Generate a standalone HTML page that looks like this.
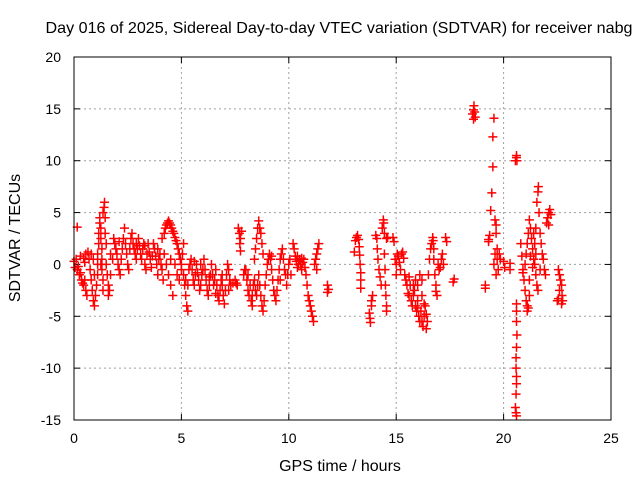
<!DOCTYPE html>
<html><head><meta charset="utf-8"><style>
body{margin:0;background:#fff}
svg{display:block;font-family:"Liberation Sans",sans-serif}
</style></head><body>
<svg id="chart" width="640" height="480" xmlns="http://www.w3.org/2000/svg">
<text x="339" y="33" font-size="16" text-anchor="middle" textLength="587" lengthAdjust="spacingAndGlyphs">Day 016 of 2025, Sidereal Day-to-day VTEC variation (SDTVAR) for receiver nabg</text>
<g id="grid"></g>
<g id="ticks"></g>
<g id="marks"></g>
<rect x="74" y="57" width="537" height="363" fill="none" stroke="#000" stroke-width="1"/>
<text transform="translate(20,238) rotate(-90)" font-size="16" text-anchor="middle">SDTVAR / TECUs</text>
<text x="340" y="471" font-size="16" text-anchor="middle">GPS time / hours</text>
</svg>
<script>
const xTicks=[0,5,10,15,20,25];
const yTicks=[20,15,10,5,0,-5,-10,-15];
const seg1=[[0,0.3],[0.05,-0.3],[0.1,0.5],[0.15,-0.5],[0.2,-0.2],[0.25,-1],[0.3,-0.8],[0.35,-1.5],[0.4,-1.8],[0.45,-2],[0.5,-1.5],[0.55,-2.5],[0.6,-3],[0.15,3.6],[0.3,0.8],[0.45,0.6],[0.55,1],[0.65,1.2],[0.7,0.5],
[0.75,-0.5],[0.8,-1.5],[0.85,-2.5],[0.9,-3.5],[0.95,-4],[1.0,-3],[0.8,1],[0.9,0.5],
[1.05,-2],[1.1,-1],[1.1,0],[1.1,1],[1.15,2],[1.15,3],[1.2,4],[1.2,4.5],[1.25,3.5],[1.25,2.5],[1.3,1.5],[1.3,0.5],[1.3,-0.5],[1.35,-1.5],[1.35,-2.5],[1.35,5],[1.4,5.5],[1.42,6],[1.45,4.5],[1.45,3],[1.5,2],[1.5,0],[1.55,-1],[1.6,-2],[1.6,-3],[1.65,-2.5],[1.7,-1],[1.7,1],
[1.8,0.5],[1.85,2.5],[1.9,2],[1.95,1.5],[2.0,1],[2.05,0],[2.1,-0.5],[2.15,-1],[2.2,0.5],[2.25,1.5],[2.3,2.5],[2.35,3.5],[2.4,2],[2.45,1],[2.5,0],[2.55,-0.5],[2.6,1.5],[2.65,2.5],[2.7,3],[2.75,2],
[2.8,1.5],[2.85,1],[2.9,0.5],[2.95,1.5],[3.0,2.5],[3.05,1.8],[3.1,1],[3.15,0.5],[3.2,1.5],[3.25,2],[3.3,0],[3.35,-0.5],[3.4,1],[3.45,2],[3.5,1.2],[3.55,0.5],[3.6,-0.3],[3.65,0.8],[3.7,2],[3.75,1.5],[3.8,0.8],[3.85,0],[3.9,-1],[3.95,0.5],[4.0,1],[4.05,0],[4.1,-0.5],[4.15,-1.5],
[4.2,3],[4.25,3.5],[4.3,3.8],[4.35,4],[4.4,4.2],[4.45,4],[4.5,3.8],[4.55,3.5],[4.6,3.2],[4.65,3],[4.7,2.6],[4.75,2.3],[4.8,2],[4.85,1.5],[4.9,1],[4.95,0.5],[5.0,0],
[4.2,1],[4.3,0],[4.4,-1],[4.5,-2],[4.6,-3],[4.5,0.5],[4.7,0],[4.8,-1],[4.9,-1.5],[5.0,-0.5],[5.05,1],[5.1,2],
[5.1,-1],[5.15,-2],[5.2,-3],[5.25,-4],[5.3,-4.5],[5.2,-1.5],[5.35,-0.5],[5.4,0],[5.45,0.5],[5.5,-0.5],[5.55,-1.5],[5.6,-2],[5.65,-1],[5.7,0],[5.75,-0.8],[5.8,-1.5],[5.85,-2.5],[5.9,-2],[5.95,-1],
[0.5,0.2],[0.95,-1],[1.25,0],[2.1,2.2],[2.9,2],[3.3,1.8],[3.9,1.5],[4.1,2.5],[5.3,-2],[5.6,0.3],[5.9,0]];
const seg2=[[6.0,-0.5],[6.05,0.5],[6.1,-0.5],[6.15,-1.5],[6.2,-2.5],[6.25,-3],[6.3,-2],[6.35,-1],[6.4,0],[6.45,-1],[6.5,-2],[6.55,-1.5],[6.6,-0.5],[6.65,-2],[6.7,-3],[6.75,-3.5],[6.8,-2.5],[6.85,-1.5],[6.9,-2],[6.95,-3],[7.0,-3.8],[7.05,-2.5],[7.1,-1],[7.15,0],[7.2,-0.5],[7.25,-1.5],[7.3,-2],[7.4,-1.8],[7.5,-1.5],[7.55,-1.8],[7.6,-2],
[7.65,3.5],[7.7,3],[7.75,2.5],[7.8,3.2],[7.72,2],[7.75,1.3],
[7.9,-1],[7.95,-0.5],[8.0,-0.5],[8.05,-1.5],[8.1,-2.5],[8.15,-3],[8.2,-2],[8.25,-3.5],[8.3,-3],[8.35,-2],[8.4,-1.5],[8.45,-2.5],[8.5,-3],[8.55,-2],[8.6,-1],[8.65,-2],[8.7,-3],[8.75,-4],[8.8,-4.5],[8.85,-3.5],
[8.4,0.5],[8.45,1.5],[8.5,2.5],[8.55,3.5],[8.6,4.2],[8.65,3.5],[8.7,3],[8.75,2],[8.8,1],
[8.9,-2],[8.95,-1],[9.0,0],[9.05,0.5],[9.1,1],[9.15,0.5],[9.2,-0.5],[9.25,-1.5],[9.3,-2.5],[9.35,-3],[9.4,-3.5],[9.45,-2.5],[9.5,-1.5],[9.55,-0.5],[9.6,0.5],[9.65,1],[9.7,1.5],[9.75,0.5],[9.8,-0.5],[9.85,-1],[9.9,-2],[9.95,-1],[10.0,0],[10.05,0.5],[10.1,-1],
[10.2,2],[10.25,1.5],[10.3,0.8],[10.35,0.3],[10.4,-0.3],[10.45,0],[10.5,0.5],[10.55,0],[10.6,-0.5],[10.65,0.2],[10.7,0.5],[10.75,-0.3],[10.8,-1],[10.85,-2],[10.9,-3],[10.95,-3.5],[11.0,-4],[11.05,-4.5],[11.1,-5],[11.15,-5.5],[11.2,0],[11.25,0.5],[11.3,1],[11.35,1.5],[11.4,2],[11.3,-0.5],
[11.8,-2],[11.8,-2.7],[11.85,-2.4],
[6.3,-1.2],[6.6,-2.8],[6.9,-1],[7.2,-2.5],[8.1,-1],[8.3,-4],[9.2,0.8],[9.6,-1.5],[10.4,0.8],[10.6,0.6]];
const seg3=[[13.05,1.2],[13.1,2.3],[13.15,2.6],[13.2,2.8],[13.25,2.4],[13.28,1.7],[13.3,0.9],[13.32,0],[13.35,-0.8],[13.35,-1.5],[13.35,-2.3],
[13.75,-4.7],[13.78,-5.2],[13.8,-5.6],[13.85,-4],[13.9,-3],[13.85,-3.5],
[14.05,2.8],[14.1,2.5],[14.12,1.5],[14.15,0.5],[14.2,-0.5],[14.25,-1.2],[14.3,-2],[14.35,3.5],[14.4,4.3],[14.42,4],[14.45,3],[14.45,1],[14.48,-0.5],[14.5,-2],[14.52,-3],[14.55,-4],[14.55,-4.5],[14.55,2.5],[14.6,2.6],
[14.85,2.6],[14.9,2.2],
[14.95,0.5],[15.0,0],[15.05,1],[15.1,0.8],[15.15,0.2],[15.2,-0.5],[15.25,1],[15.3,1.2],[15.35,0.6],[15.0,-1],
[15.4,-1],[15.45,-1.5],[15.5,-2],[15.55,-2.8],[15.6,-3],[15.65,-2],[15.7,-3.5],[15.75,-4],[15.8,-3],[15.85,-2.5],[15.9,-4],[15.95,-4.5],[16.0,-3.5],[16.05,-5],[16.1,-5.5],[16.15,-4.5],[16.2,-5.5],[16.25,-6],[16.3,-5],[16.35,-4],[16.4,-6.2],[15.9,-1.5],[16.0,-2],[16.1,-1],[16.2,-1.5],[16.3,-3.8],[16.45,-5.5],
[16.5,-1],[16.55,0.5],[16.6,1.5],[16.65,2],[16.7,2.6],[16.72,2.3],[16.75,1.5],[16.75,0.5],[16.8,-1],[16.85,-2],[16.9,-3],[16.85,-2.6],
[16.95,0],[17.0,-0.5],[17.05,-0.3],[17.1,0.5],[17.15,1],[17.2,0],
[17.3,2.6],[17.35,2.2],[17.65,-1.7],[17.7,-1.4],
[15.6,-1.2],[15.8,-2],[16.0,-4.2],[16.2,-3],[16.4,-4.8]];
const seg4=[[18.55,14.5],[18.6,14.9],[18.62,15.3],[18.65,14.7],[18.68,14.2],[18.6,14],
[19.15,-2.3],[19.15,-2],[19.3,2.4],[19.35,2.8],[19.3,2.2],[19.4,5.2],[19.45,6.9],[19.5,9.4],[19.5,12.3],[19.55,14.1],
[19.6,4.3],[19.65,3.8],[19.65,3],[19.7,1.5],[19.7,0.5],[19.75,-0.5],[19.6,1],[19.55,0],[19.65,-1],[19.8,1],[19.85,0.5],
[20.0,0.3],[20.05,-0.3],[20.3,0.1],[20.3,-0.5],
[20.55,10],[20.6,10.3],[20.6,10.5],[20.62,10],
[20.6,-3.8],[20.6,-4.5],[20.6,-5.5],[20.62,-6.8],[20.6,-8],[20.58,-9],[20.58,-10],[20.6,-10.8],[20.6,-11.5],[20.58,-12.5],[20.55,-13.8],[20.58,-14.3],[20.6,-14.6],
[20.8,2],[20.85,0.8],[20.9,-0.5],[20.95,-1.5],[21.0,-2.5],[21.05,-3.5],[21.1,-4],[21.1,-4.5],[21.15,-4.2],[21.2,-3],[21.2,-1.5],[20.9,-0.8],[21.0,0],[21.05,1],[21.1,2],[21.15,3],[21.2,4.3],[21.25,3.5],[21.3,2.5],[21.35,1.5],[21.4,0.5],[21.4,3],[21.45,2],[21.5,1],[21.5,-1],[21.55,-2],[21.6,-2.5],[21.55,6],[21.6,7],[21.62,7.5],[21.65,5],[21.7,3],[21.75,2],[21.8,1],[21.85,0.5],[21.9,-0.5],[21.95,-1],[21.7,-0.5],[21.5,3.5],[21.45,0],[21.35,-0.3],[21.25,0.8],[22.0,4],[22.05,4.5],[22.1,5],[22.15,5.3],[22.2,4.8],[22.1,3.8],
[22.55,-0.5],[22.6,-1],[22.65,-1.5],[22.6,-2.5],[22.7,-2],[22.72,-3],[22.75,-3.5],[22.7,-3.8],[22.55,-3.3],[22.5,-3.5]];
const NS="http://www.w3.org/2000/svg";
const X0=74,X1=611,Y0=420,Y1=57;
function sx(t){return X0+(t-0)/(25-0)*(X1-X0);}
function sy(v){return Y0-(v-(-15))/(20-(-15))*(Y0-Y1);}
function mk(tag,attrs,parent){const e=document.createElementNS(NS,tag);for(const k in attrs)e.setAttribute(k,attrs[k]);parent.appendChild(e);return e;}
const grid=document.getElementById('grid'),ticks=document.getElementById('ticks'),marks=document.getElementById('marks');
xTicks.forEach(t=>{const x=sx(t);
 if(t>0&&t<25){const g=mk('line',{x1:x,x2:x,y1:Y1,y2:Y0,stroke:'#a0a0a0','stroke-dasharray':'2,3'},grid);
 
 }
 mk('line',{x1:x,x2:x,y1:Y0,y2:Y0-6,stroke:'#000'},ticks);
 mk('line',{x1:x,x2:x,y1:Y1,y2:Y1+6,stroke:'#000'},ticks);
 const l=mk('text',{x:x,y:443,'font-size':14,'text-anchor':'middle'},ticks);l.textContent=t;
 
 });
yTicks.forEach(v=>{const y=sy(v);
 if(v>-15&&v<20){const g=mk('line',{x1:X0,x2:X1,y1:y,y2:y,stroke:'#a0a0a0','stroke-dasharray':'2,3'},grid);
 
 }
 mk('line',{x1:X0,x2:X0+6,y1:y,y2:y,stroke:'#000'},ticks);
 mk('line',{x1:X1,x2:X1-6,y1:y,y2:y,stroke:'#000'},ticks);
 const l=mk('text',{x:61,y:y+5,'font-size':14,'text-anchor':'end'},ticks);l.textContent=v;
 
 });
[seg1,seg2,seg3,seg4].forEach(seg=>seg.forEach(p=>{const x=sx(p[0]),y=sy(p[1]);
 const m=mk('path',{d:`M${x-4.5},${y}H${x+4.5}M${x},${y-4.5}V${y+4.5}`,stroke:'#ff0000','stroke-width':1.5,fill:'none'},marks);
 
 }));
</script>
</body></html>
